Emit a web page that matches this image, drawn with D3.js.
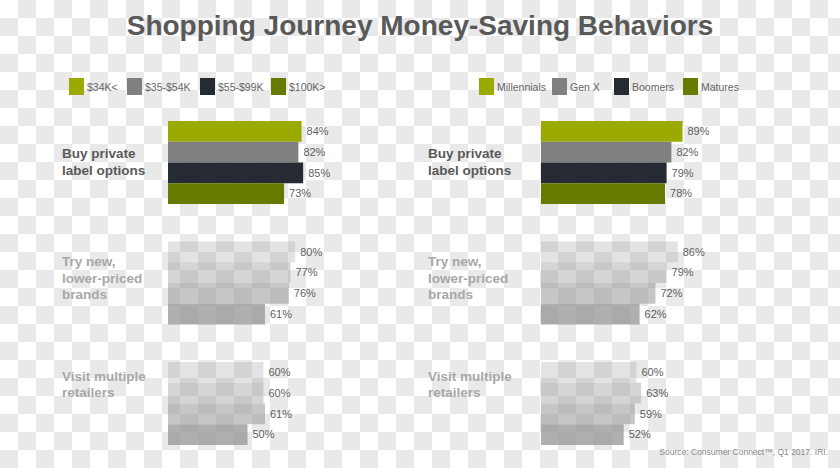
<!DOCTYPE html>
<html lang="en">
  <head>
    <meta charset="UTF-8" />
    <title>Shopping Journey Money-Saving Behaviors</title>
    <script src="https://d3js.org/d3.v7.min.js"></script>
    <style>
      body {
        margin: 0;
        font-family: 'Liberation Sans', Arial, sans-serif;
      }
      .cat {
        font-weight: bold;
        font-size: 13.5px;
      }
      .val {
        font-size: 11px;
        fill: #5f5f5f;
      }
      .legend text {
        font-size: 10.5px;
        fill: #666;
      }
    </style>
  </head>
  <body>
    <div id="chart"></div>
    <script>
      // data
      const behaviors = ['Buy private label options', 'Try new, lower-priced brands', 'Visit multiple retailers'];
      const behaviorLines = [
        ['Buy private', 'label options'],
        ['Try new,', 'lower-priced', 'brands'],
        ['Visit multiple', 'retailers'],
      ];
      const incomeGroups = ['$34K<', '$35-$54K', '$55-$99K', '$100K>'];
      const incomeValues = [
        [84, 82, 85, 73],
        [80, 77, 76, 61],
        [60, 60, 61, 50],
      ];
      const generations = ['Millennials', 'Gen X', 'Boomers', 'Matures'];
      const generationValues = [
        [89, 82, 79, 78],
        [86, 79, 72, 62],
        [60, 63, 59, 52],
      ];

      const width = 840,
        height = 468;

      const colors = ['#9aaa00', '#808080', '#262b33', '#667a00'];
      // faded groups: grey wash that lets the checker show through
      const fadeOpacity = [0.28, 0.41, 0.56, 0.78];

      const svg = d3
        .select('#chart')
        .append('svg')
        .attr('width', width)
        .attr('height', height);

      // checkerboard backdrop
      const sq = 18;
      const cells = [];
      for (let r = 0; r < Math.ceil(height / sq); r++)
        for (let c = 0; c < Math.ceil(width / sq); c++)
          if ((r + c) % 2 === 1) cells.push([c, r]);
      svg.append('rect').attr('width', width).attr('height', height).attr('fill', '#fff');
      svg
        .append('g')
        .selectAll('rect')
        .data(cells)
        .join('rect')
        .attr('x', (d) => d[0] * sq)
        .attr('y', (d) => d[1] * sq)
        .attr('width', sq)
        .attr('height', sq)
        .attr('fill', '#e9e9e9');

      svg
        .append('text')
        .attr('x', width / 2)
        .attr('y', 35)
        .attr('text-anchor', 'middle')
        .style('font-weight', 'bold')
        .style('font-size', '28px')
        .attr('fill', '#595959')
        .text('Shopping Journey Money-Saving Behaviors');

      // scales
      const x = d3.scaleLinear().domain([0, 100]).range([0, 159]);
      const yGroup = d3.scaleBand().domain(behaviors).range([121, 445]).paddingInner(0.311);
      const yBar = d3.scaleBand().domain([0, 1, 2, 3]).range([0, yGroup.bandwidth()]);

      // first baseline of the behaviour label, from top of its group
      const labelTop = [37, 25, 19];

      function panel(opts) {
        const g = svg.append('g');

        // legend
        const leg = g.append('g').attr('class', 'legend');
        opts.keys.forEach((k, i) => {
          const lx = opts.legendX[i];
          leg.append('rect').attr('x', lx).attr('y', 78).attr('width', 15).attr('height', 17).attr('fill', colors[i]);
          leg.append('text').attr('x', lx + 18).attr('y', 91).text(k);
        });

        behaviors.forEach((b, gi) => {
          const gy = yGroup(b);
          const vals = opts.values[gi];
          const faded = gi > 0;

          g.append('text')
            .attr('class', 'cat')
            .attr('fill', faded ? '#a8a8a8' : '#595959')
            .selectAll('tspan')
            .data(behaviorLines[gi])
            .join('tspan')
            .attr('x', opts.labelX)
            .attr('y', (d, i) => gy + labelTop[gi] + i * 16.5)
            .text((d) => d);

          g.selectAll(null)
            .data(vals)
            .join('rect')
            .attr('x', opts.barX)
            .attr('y', (d, i) => gy + yBar(i))
            .attr('width', (d) => x(d))
            .attr('height', yBar.bandwidth())
            .attr('fill', (d, i) => (faded ? '#999' : colors[i]))
            .attr('fill-opacity', (d, i) => (faded ? fadeOpacity[i] : 1));

          g.selectAll(null)
            .data(vals)
            .join('text')
            .attr('class', 'val')
            .attr('x', (d) => opts.barX + x(d) + 5)
            .attr('y', (d, i) => gy + yBar(i) + yBar.bandwidth() / 2)
            .attr('dy', '0.35em')
            .text((d) => d + '%');
        });
      }

      panel({
        keys: incomeGroups,
        values: incomeValues,
        legendX: [69, 127, 200, 271],
        labelX: 62,
        barX: 168,
      });
      panel({
        keys: generations,
        values: generationValues,
        legendX: [479, 552, 614, 683],
        labelX: 428,
        barX: 541,
      });

      svg
        .append('text')
        .attr('x', 828)
        .attr('y', 455)
        .attr('text-anchor', 'end')
        .style('font-size', '8.5px')
        .attr('fill', '#8a8a8a')
        .text('Source: Consumer Connect™, Q1 2017. IRI.');
    </script>
  </body>
</html>
